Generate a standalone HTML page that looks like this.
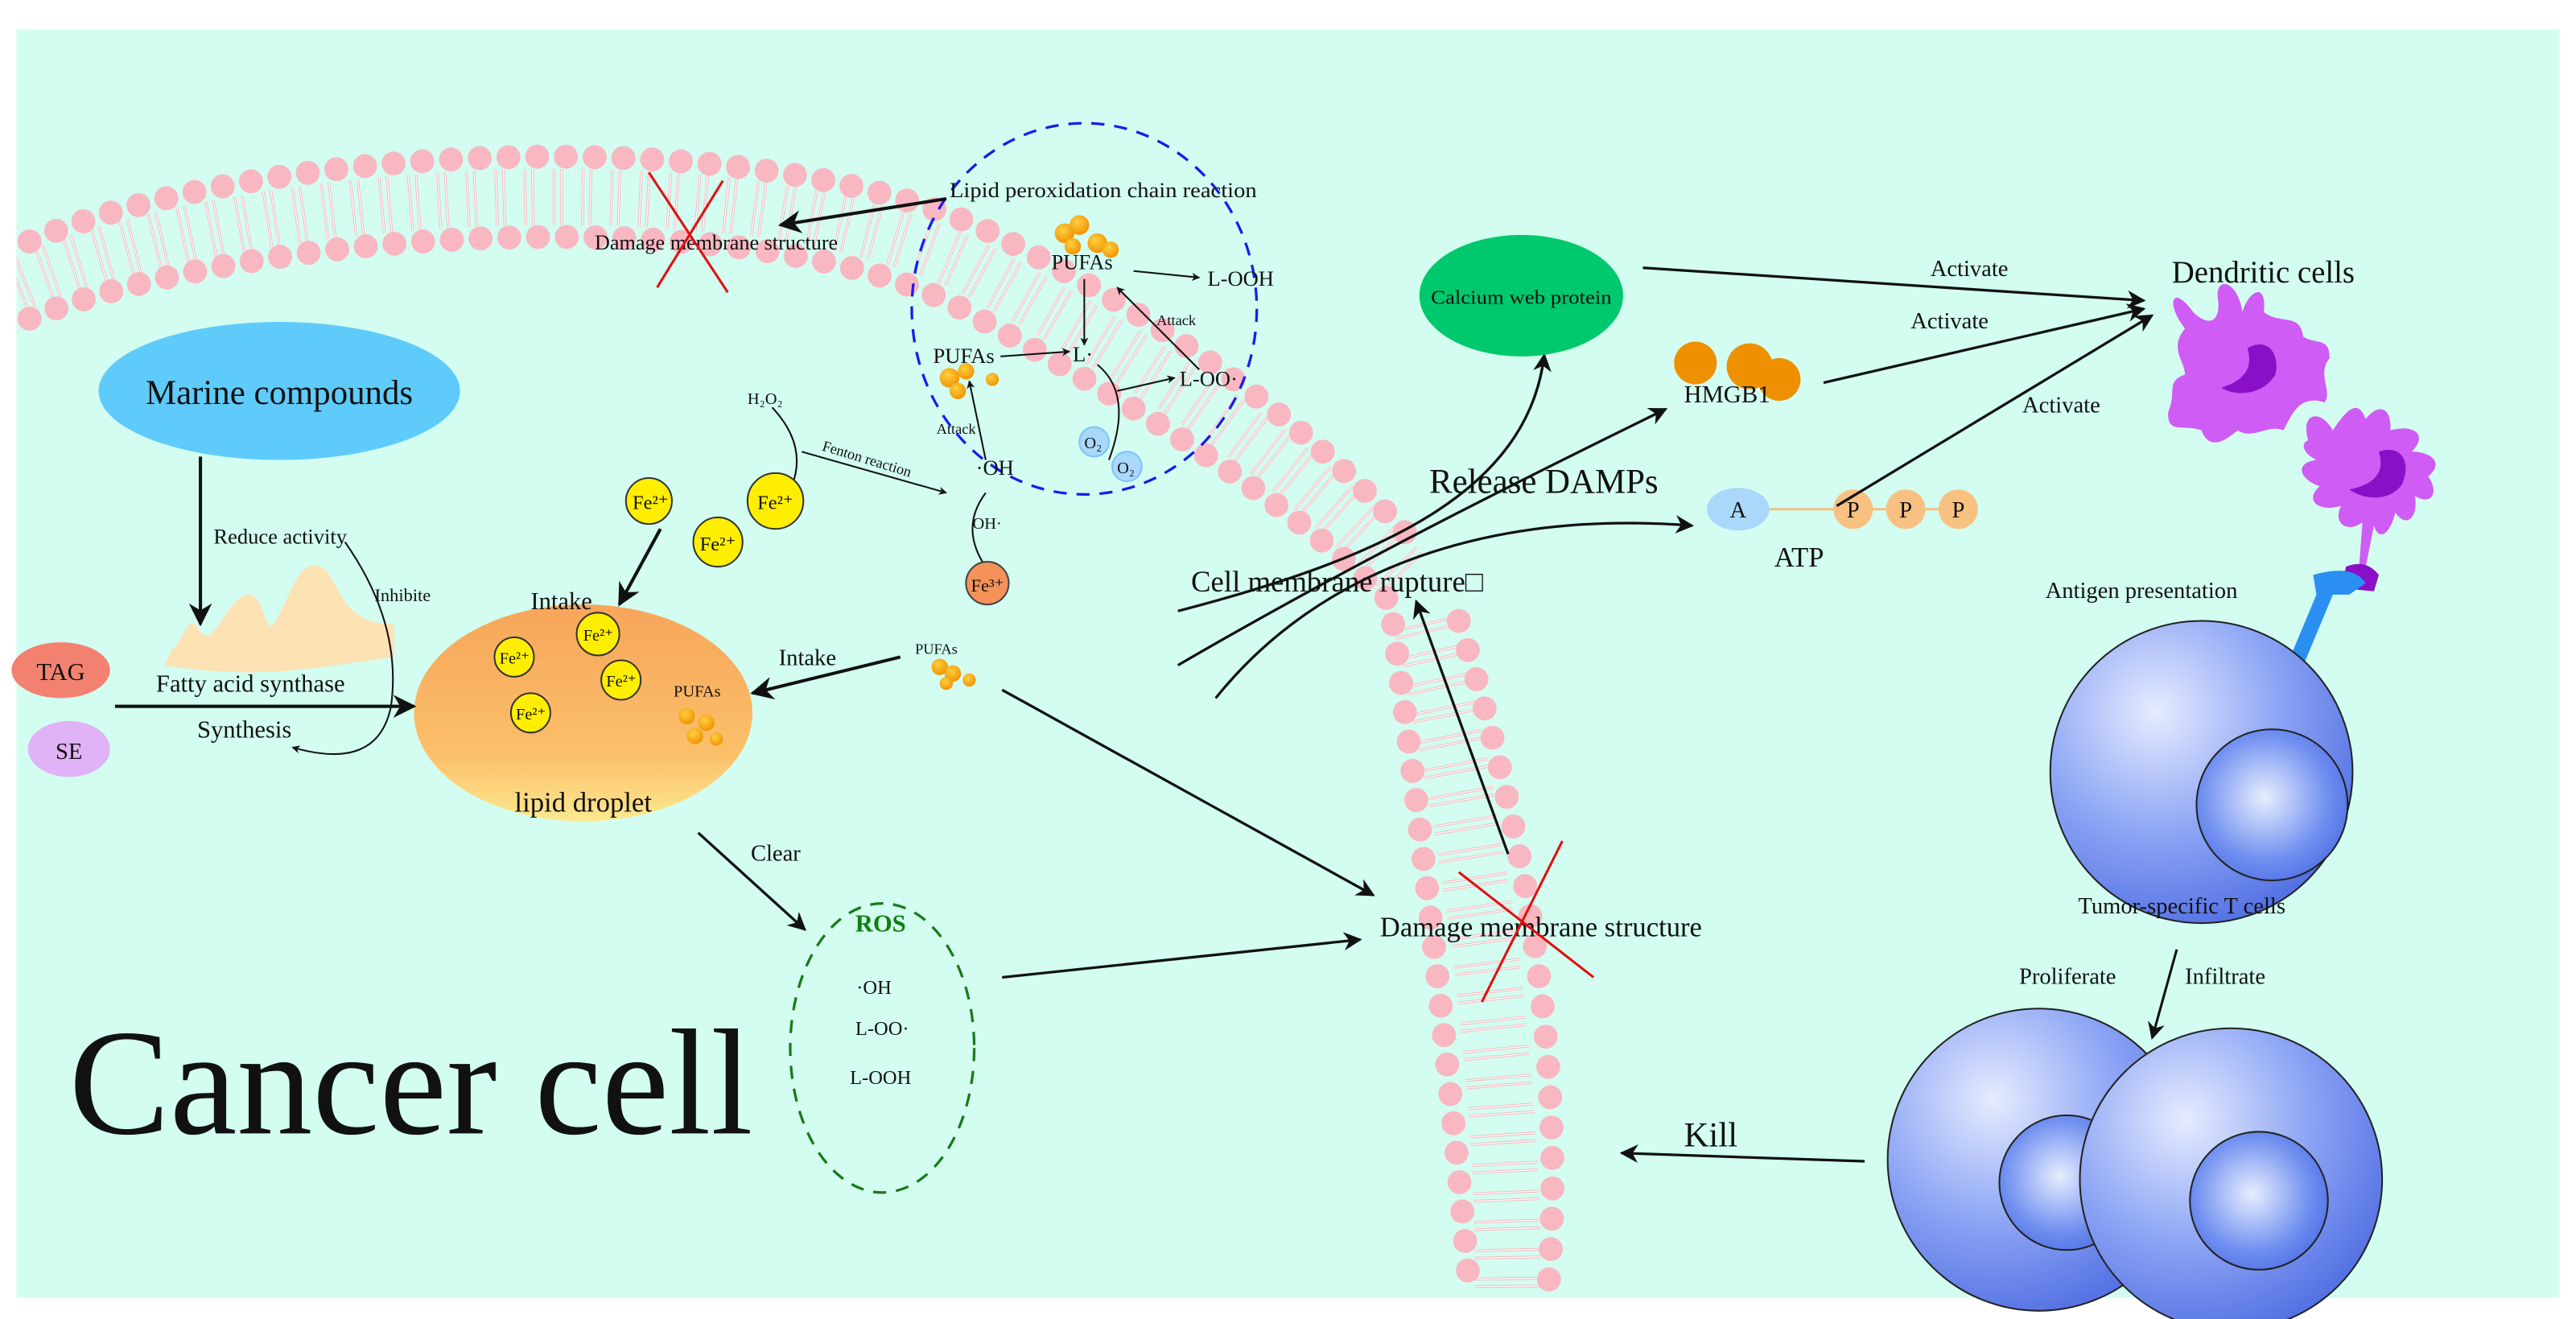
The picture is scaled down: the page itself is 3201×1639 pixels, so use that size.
<!DOCTYPE html>
<html><head><meta charset="utf-8"><style>html,body{margin:0;padding:0;background:#fff}svg{display:block}text{font-family:"Liberation Serif",serif;fill:#111}</style></head>
<body>
<svg width="3201" height="1639" viewBox="0 0 1568 803" preserveAspectRatio="none" xmlns="http://www.w3.org/2000/svg">
<defs>
<marker id="a" viewBox="0 0 10 10" refX="9" refY="5" markerWidth="7" markerHeight="7" orient="auto"><path d="M0,0 L10,5 L0,10 L3,5z" fill="#111"/></marker>
<marker id="b" viewBox="0 0 10 10" refX="9" refY="5" markerWidth="5" markerHeight="5" orient="auto"><path d="M0,0 L10,5 L0,10 L3,5z" fill="#111"/></marker>
<linearGradient id="ld" x1="0" y1="0" x2="0" y2="1"><stop offset="0" stop-color="#f7a55a"/><stop offset=".7" stop-color="#fbc06a"/><stop offset="1" stop-color="#fde98f"/></linearGradient>
<radialGradient id="tc" cx=".35" cy=".3" r=".8"><stop offset="0" stop-color="#e6ecff"/><stop offset=".5" stop-color="#8ea6f5"/><stop offset="1" stop-color="#4a68e0"/></radialGradient>
<radialGradient id="nu" cx=".45" cy=".45" r=".7"><stop offset="0" stop-color="#e8eeff"/><stop offset=".6" stop-color="#6f8ff0"/><stop offset="1" stop-color="#4060e0"/></radialGradient>
<radialGradient id="pu" cx=".4" cy=".35" r=".7"><stop offset="0" stop-color="#ffd040"/><stop offset="1" stop-color="#f09000"/></radialGradient>
<clipPath id="cl"><rect x="10" y="18" width="1548" height="772"/></clipPath>
</defs>
<rect width="1568" height="803" fill="#fff"/>
<rect x="10" y="18" width="1548" height="772" fill="#d2fdf0"/>
<g clip-path="url(#cl)">
<g fill="none" stroke-dasharray="1.6 3 1.6 11.3">
<path d="M10,173 C150,115 450,95 590,162 C690,215 785,275 857,352" stroke="#f5b8c0" stroke-width="34"/>
<path d="M868,379 Q918,600 918,790" stroke="#f5b8c0" stroke-width="40"/>
</g>
<g fill="none" stroke-dasharray="0.6 4 0.6 12.3" stroke-dashoffset="-0.5">
<path d="M10,173 C150,115 450,95 590,162 C690,215 785,275 857,352" stroke="#fff" stroke-width="34"/>
<path d="M868,379 Q918,600 918,790" stroke="#fff" stroke-width="40"/>
</g>
<g fill="none" stroke="#f9b7c2" stroke-width="14.6" stroke-linecap="round" stroke-dasharray="0 17.5">
<path d="M18,147 C150,90 450,70 600,140 C700,190 790,250 865,335"/>
<path d="M18,194 C150,140 450,120 580,185 C680,240 780,300 850,370"/>
<path d="M848,380 Q878,600 895,790" stroke-dasharray="0 18"/>
<path d="M888,378 Q958,600 942,790" stroke-dasharray="0 18.5"/>
</g>
</g>

<ellipse cx="660" cy="188" rx="105" ry="113" fill="none" stroke="#1a1aee" stroke-width="1.6" stroke-dasharray="8,6"/>
<text x="578" y="120" font-size="13" textLength="187" lengthAdjust="spacingAndGlyphs">Lipid peroxidation chain reaction</text>
<line x1="576" y1="121" x2="475" y2="137" stroke="#111" stroke-width="2" marker-end="url(#a)"/>
<text x="362" y="152" font-size="13" textLength="148" lengthAdjust="spacingAndGlyphs">Damage membrane structure</text>
<line x1="395" y1="105" x2="443" y2="178" stroke="#e01010" stroke-width="1.5"/>
<line x1="440" y1="110" x2="400" y2="175" stroke="#e01010" stroke-width="1.5"/>

<g fill="url(#pu)"><circle cx="648" cy="142" r="6"/><circle cx="657" cy="137" r="6"/><circle cx="668" cy="148" r="6"/><circle cx="676" cy="152" r="5"/><circle cx="653" cy="150" r="5"/></g>
<text x="640" y="164" font-size="13">PUFAs</text>
<line x1="690" y1="165" x2="730" y2="169" stroke="#111" marker-end="url(#b)"/>
<text x="735" y="174" font-size="13">L-OOH</text>
<line x1="660" y1="170" x2="660" y2="210" stroke="#111" marker-end="url(#b)"/>
<text x="653" y="220" font-size="13">L·</text>
<text x="568" y="221" font-size="13">PUFAs</text>
<g fill="url(#pu)"><circle cx="578" cy="230" r="6"/><circle cx="588" cy="226" r="5"/><circle cx="583" cy="238" r="5"/><circle cx="604" cy="231" r="4"/></g>
<line x1="609" y1="217" x2="651" y2="214" stroke="#111" marker-end="url(#b)"/>
<path d="M668,222 Q690,240 675,280" fill="none" stroke="#111"/>
<line x1="680" y1="238" x2="715" y2="230" stroke="#111" marker-end="url(#b)"/>
<text x="718" y="235" font-size="13">L-OO·</text>
<line x1="730" y1="225" x2="680" y2="175" stroke="#111" marker-end="url(#b)"/>
<text x="704" y="198" font-size="9">Attack</text>
<circle cx="666" cy="269" r="9" fill="#a9d8fb" stroke="#7cc4f8"/><text x="660" y="273" font-size="10">O₂</text>
<circle cx="686" cy="284" r="9" fill="#a9d8fb" stroke="#7cc4f8"/><text x="680" y="288" font-size="10">O₂</text>
<text x="570" y="264" font-size="9">Attack</text>
<line x1="600" y1="280" x2="590" y2="232" stroke="#111" marker-end="url(#b)"/>
<text x="594" y="289" font-size="13">·OH</text>
<text x="592" y="322" font-size="10">OH·</text>
<path d="M600,300 Q585,320 598,342" fill="none" stroke="#111"/>
<circle cx="601" cy="355" r="13" fill="#f4925a" stroke="#444"/><text x="591" y="360" font-size="11">Fe³⁺</text>
<text x="455" y="246" font-size="10">H₂O₂</text>
<path d="M470,248 Q500,280 470,315" fill="none" stroke="#111"/>
<line x1="488" y1="275" x2="576" y2="300" stroke="#111" marker-end="url(#b)"/>
<text x="500" y="274" font-size="9" transform="rotate(17 500 274)">Fenton reaction</text>

<g stroke="#333"><circle cx="395" cy="305" r="14" fill="#ffee00"/><circle cx="472" cy="305" r="17" fill="#ffee00"/><circle cx="437" cy="330" r="15" fill="#ffee00"/></g>
<g font-size="12"><text x="385" y="310">Fe²⁺</text><text x="461" y="310">Fe²⁺</text><text x="426" y="335">Fe²⁺</text></g>

<ellipse cx="355" cy="434" rx="103" ry="66" fill="url(#ld)"/>
<text x="323" y="371" font-size="15">Intake</text>
<line x1="402" y1="322" x2="377" y2="368" stroke="#111" stroke-width="2" marker-end="url(#a)"/>
<g stroke="#333" fill="#ffee00"><circle cx="313" cy="400" r="12"/><circle cx="364" cy="386" r="13"/><circle cx="378" cy="414" r="12"/><circle cx="323" cy="434" r="12"/></g>
<g font-size="10"><text x="304" y="404">Fe²⁺</text><text x="355" y="390">Fe²⁺</text><text x="369" y="418">Fe²⁺</text><text x="314" y="438">Fe²⁺</text></g>
<text x="410" y="424" font-size="10">PUFAs</text>
<g fill="url(#pu)"><circle cx="418" cy="436" r="5"/><circle cx="430" cy="440" r="5"/><circle cx="423" cy="448" r="5"/><circle cx="436" cy="450" r="4"/></g>
<text x="355" y="494" font-size="17" text-anchor="middle">lipid droplet</text>

<ellipse cx="170" cy="238" rx="110" ry="42" fill="#5ecbfb"/>
<text x="170" y="246" font-size="21" text-anchor="middle">Marine compounds</text>
<line x1="122" y1="278" x2="122" y2="380" stroke="#111" stroke-width="2" marker-end="url(#a)"/>
<text x="130" y="331" font-size="13">Reduce activity</text>
<path d="M105,395 C112,390 115,370 122,385 C130,395 138,365 150,362 C162,360 160,390 168,378 C178,360 182,340 195,345 C208,352 205,380 240,380 L240,400 C200,405 160,415 100,405 Z" fill="#fde2b4"/>
<text x="95" y="421" font-size="15">Fatty acid synthase</text>
<text x="120" y="449" font-size="15">Synthesis</text>
<text x="228" y="366" font-size="11">Inhibite</text>
<path d="M210,330 Q245,380 238,430 Q230,470 178,455" fill="none" stroke="#111" marker-end="url(#b)"/>
<ellipse cx="37" cy="408" rx="30" ry="17" fill="#f2826f"/><text x="37" y="414" font-size="15" text-anchor="middle">TAG</text>
<ellipse cx="42" cy="456" rx="25" ry="17" fill="#e0b2f6"/><text x="42" y="462" font-size="14" text-anchor="middle">SE</text>
<line x1="70" y1="430" x2="252" y2="430" stroke="#111" stroke-width="2" marker-end="url(#a)"/>

<text x="474" y="405" font-size="14">Intake</text>
<line x1="548" y1="400" x2="458" y2="422" stroke="#111" stroke-width="2" marker-end="url(#a)"/>
<text x="557" y="398" font-size="9">PUFAs</text>
<g fill="url(#pu)"><circle cx="572" cy="406" r="5"/><circle cx="580" cy="410" r="5"/><circle cx="576" cy="416" r="4"/><circle cx="590" cy="414" r="4"/></g>
<line x1="610" y1="420" x2="836" y2="545" stroke="#111" stroke-width="1.6" marker-end="url(#a)"/>
<text x="457" y="524" font-size="14">Clear</text>
<line x1="425" y1="507" x2="490" y2="566" stroke="#111" stroke-width="1.6" marker-end="url(#a)"/>
<ellipse cx="537" cy="638" rx="56" ry="88" fill="none" stroke="#1a7a1a" stroke-width="1.6" stroke-dasharray="8,6"/>
<text x="536" y="567" font-size="15" font-weight="bold" style="fill:#108010" text-anchor="middle">ROS</text>
<g font-size="12" text-anchor="middle"><text x="532" y="605">·OH</text><text x="537" y="630">L-OO·</text><text x="536" y="660">L-OOH</text></g>
<line x1="610" y1="595" x2="828" y2="572" stroke="#111" stroke-width="1.6" marker-end="url(#a)"/>
<text x="840" y="570" font-size="17" textLength="196" lengthAdjust="spacingAndGlyphs">Damage membrane structure</text>
<line x1="888" y1="531" x2="970" y2="595" stroke="#e01010" stroke-width="1.5"/>
<line x1="902" y1="610" x2="951" y2="512" stroke="#e01010" stroke-width="1.5"/>
<line x1="918" y1="520" x2="862" y2="366" stroke="#111" stroke-width="1.6" marker-end="url(#a)"/>
<text x="725" y="360" font-size="18">Cell membrane rupture□</text>

<path d="M717,372 C840,340 930,300 940,216" fill="none" stroke="#111" stroke-width="1.6" marker-end="url(#a)"/>
<path d="M717,405 C820,345 920,295 1014,249" fill="none" stroke="#111" stroke-width="1.6" marker-end="url(#a)"/>
<path d="M740,425 C800,350 900,310 1030,320" fill="none" stroke="#111" stroke-width="1.6" marker-end="url(#a)"/>
<text x="870" y="300" font-size="21">Release DAMPs</text>
<ellipse cx="926" cy="180" rx="62" ry="37" fill="#00c86c"/>
<text x="926" y="185" font-size="12" text-anchor="middle" textLength="110" lengthAdjust="spacingAndGlyphs">Calcium web protein</text>
<g fill="#ee9000"><circle cx="1032" cy="221" r="13"/><circle cx="1065" cy="223" r="14"/><circle cx="1083" cy="231" r="13"/></g>
<text x="1025" y="245" font-size="15">HMGB1</text>
<path d="M1075,310 L1190,310" stroke="#f5c080" stroke-width="1.5" fill="none"/>
<ellipse cx="1058" cy="310" rx="19" ry="13" fill="#a9d8fb"/><text x="1058" y="315" font-size="14" text-anchor="middle">A</text>
<g fill="#f8c182"><circle cx="1128" cy="310" r="12"/><circle cx="1160" cy="310" r="12"/><circle cx="1192" cy="310" r="12"/></g>
<g font-size="14" text-anchor="middle"><text x="1128" y="315">P</text><text x="1160" y="315">P</text><text x="1192" y="315">P</text></g>
<text x="1080" y="345" font-size="17">ATP</text>

<line x1="1000" y1="163" x2="1305" y2="183" stroke="#111" stroke-width="1.6" marker-end="url(#a)"/>
<line x1="1110" y1="233" x2="1305" y2="188" stroke="#111" stroke-width="1.6" marker-end="url(#a)"/>
<line x1="1118" y1="308" x2="1310" y2="192" stroke="#111" stroke-width="1.6" marker-end="url(#a)"/>
<g font-size="14"><text x="1175" y="168">Activate</text><text x="1163" y="200">Activate</text><text x="1231" y="251">Activate</text></g>
<text x="1322" y="172" font-size="19">Dendritic cells</text>

<g fill="#cf5cf4">
<path d="M1330,200 C1318,185 1322,172 1335,190 C1345,200 1352,195 1350,182 C1348,168 1362,170 1365,190 C1368,178 1380,170 1378,190 C1388,198 1400,190 1402,205 C1410,210 1418,205 1418,218 C1410,228 1420,238 1415,245 C1400,240 1395,252 1390,262 C1380,258 1372,268 1362,262 C1355,268 1345,275 1340,262 C1330,258 1318,265 1320,250 C1325,240 1318,232 1330,228 C1330,220 1320,212 1330,200Z"/>
<path d="M1405,268 C1400,252 1412,248 1420,262 C1428,250 1435,242 1440,255 C1448,245 1456,248 1455,262 C1470,258 1478,265 1468,275 C1480,275 1488,282 1478,290 C1485,300 1480,308 1470,302 C1472,315 1465,322 1458,312 C1455,325 1448,330 1445,320 L1440,345 L1436,345 L1438,318 C1428,325 1420,318 1425,308 C1412,312 1402,305 1412,296 C1400,292 1396,282 1410,280 C1402,276 1400,270 1405,268Z"/>
</g>
<g fill="#8a10c8"><path d="M1368,212 C1380,205 1388,215 1385,228 C1378,240 1362,242 1352,236 C1365,232 1372,225 1368,212Z"/><path d="M1448,275 C1462,270 1468,282 1462,295 C1455,305 1440,305 1430,298 C1445,295 1452,288 1448,275Z"/><path d="M1428,345 Q1440,340 1448,350 L1445,360 L1425,358Z"/></g>
<text x="1245" y="364" font-size="14">Antigen presentation</text>
<path d="M1408,350 Q1432,343 1440,355 L1430,362 L1420,362 L1400,410 L1392,405 L1410,362Z" fill="#2a8ff0"/>

<circle cx="1340" cy="470" r="92" fill="url(#tc)" stroke="#222"/>
<circle cx="1383" cy="490" r="46" fill="url(#nu)" stroke="#222"/>
<text x="1265" y="556" font-size="14">Tumor-specific T cells</text>
<text x="1229" y="599" font-size="14">Proliferate</text>
<text x="1330" y="599" font-size="14">Infiltrate</text>
<line x1="1325" y1="578" x2="1310" y2="632" stroke="#111" stroke-width="1.5" marker-end="url(#a)"/>
<circle cx="1241" cy="706" r="92" fill="url(#tc)" stroke="#222"/>
<circle cx="1258" cy="720" r="41" fill="url(#nu)" stroke="#222"/>
<circle cx="1358" cy="718" r="92" fill="url(#tc)" stroke="#222"/>
<circle cx="1375" cy="731" r="42" fill="url(#nu)" stroke="#222"/>
<text x="1025" y="698" font-size="21">Kill</text>
<line x1="1135" y1="707" x2="987" y2="702" stroke="#111" stroke-width="1.6" marker-end="url(#a)"/>
<text x="42" y="690" font-size="92">Cancer cell</text>
</svg>
</body></html>
